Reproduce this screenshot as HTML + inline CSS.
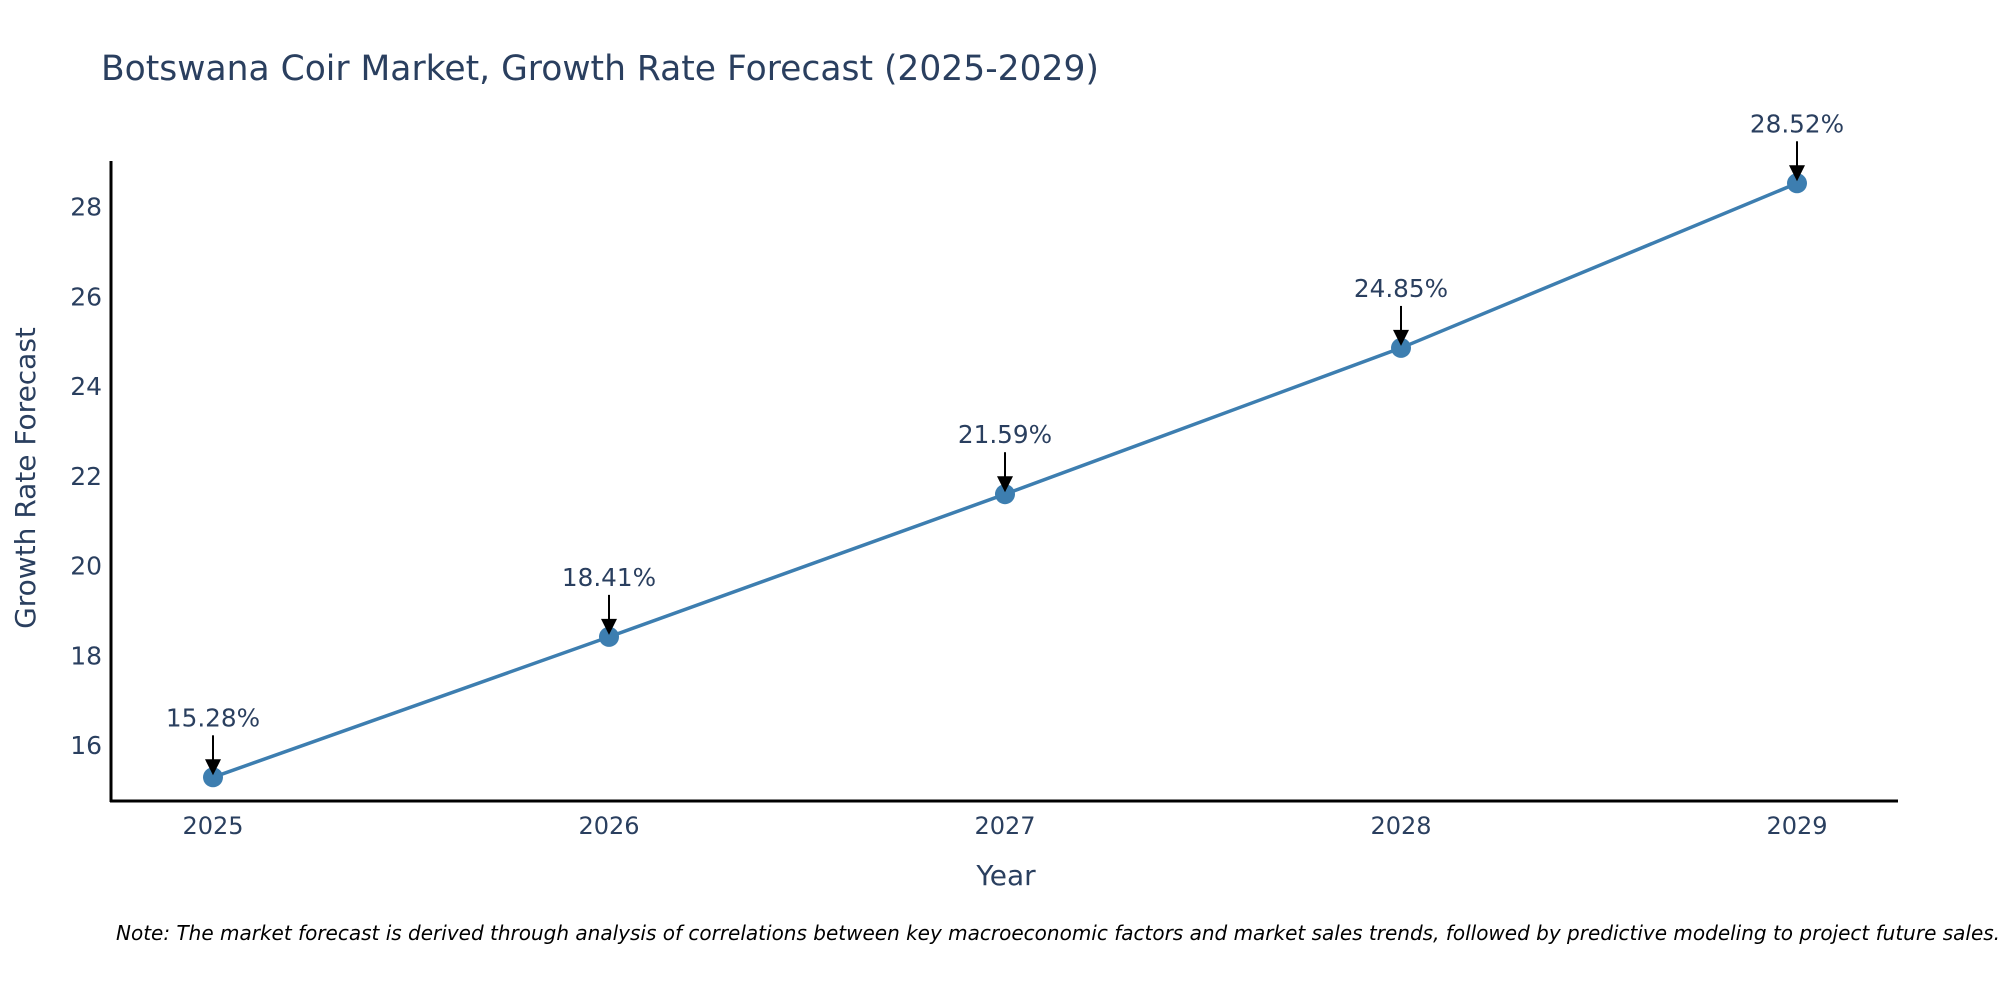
<!DOCTYPE html>
<html><head><meta charset="utf-8"><style>
html,body{margin:0;padding:0;background:#fff;overflow:hidden;}
svg{display:block;font-family:"DejaVu Sans","Liberation Sans",sans-serif;}
</style></head><body>
<svg id="chart" width="2000" height="1000" viewBox="0 0 2000 1000">
<text x="101" y="80" font-size="34.5" fill="#2a3f5f">Botswana Coir Market, Growth Rate Forecast (2025-2029)</text>
<g id="yticks"></g>
<g id="xticks"></g>
<line x1="111" y1="161" x2="111" y2="802" stroke="#000" stroke-width="3"/>
<line x1="110" y1="801" x2="1898" y2="801" stroke="#000" stroke-width="3"/>
<g id="series"></g>
<g id="annos"></g>
<text x="1006" y="885" font-size="28" fill="#2a3f5f" text-anchor="middle">Year</text>
<text transform="translate(35,478) rotate(-90)" font-size="28" fill="#2a3f5f" text-anchor="middle">Growth Rate Forecast</text>
<text x="116" y="940" font-size="20" font-style="italic" fill="#000">Note: The market forecast is derived through analysis of correlations between key macroeconomic factors and market sales trends, followed by predictive modeling to project future sales.</text>
</svg>
<script>
const years = ["2025","2026","2027","2028","2029"];
const growthValues = [15.28, 18.41, 21.59, 24.85, 28.52];
const yTickValues = [16, 18, 20, 22, 24, 26, 28];

const NS = "http://www.w3.org/2000/svg";
function xScale(i){ return 213 + i * 396; }
function yScale(v){ return 745 - (v - 16) * (745 - 206.6) / 12; }
function mk(tag, attrs, parent){
  const e = document.createElementNS(NS, tag);
  for (const k in attrs) e.setAttribute(k, attrs[k]);
  parent.appendChild(e);
  return e;
}
const yt = document.getElementById('yticks');
yTickValues.forEach(v => {
  const t = mk('text', {x: 102, y: yScale(v) + 9, 'font-size': 25, fill: '#2a3f5f', 'text-anchor': 'end'}, yt);
  
  
  t.textContent = v;
});
const xt = document.getElementById('xticks');
years.forEach((y, i) => {
  const t = mk('text', {x: xScale(i), y: 834, 'font-size': 24, fill: '#2a3f5f', 'text-anchor': 'middle'}, xt);
  
  
  t.textContent = y;
});
const s = document.getElementById('series');
const pts = growthValues.map((v, i) => xScale(i) + ',' + yScale(v)).join(' ');
const line = mk('polyline', {points: pts, fill: 'none', stroke: '#3d7eb0', 'stroke-width': 3.5}, s);


growthValues.forEach((v, i) => {
  const c = mk('circle', {cx: xScale(i), cy: yScale(v), r: 10, fill: '#3d7eb0'}, s);
  
  
});
const an = document.getElementById('annos');
growthValues.forEach((v, i) => {
  const x = xScale(i), y = yScale(v);
  const l = mk('line', {x1: x, y1: y - 42, x2: x, y2: y - 14, stroke: '#000', 'stroke-width': 2}, an);
  
  
  const h = mk('polygon', {points: (x-8)+','+(y-18)+' '+(x+8)+','+(y-18)+' '+x+','+(y-2), fill: '#000'}, an);
  
  
  const t = mk('text', {x: x, y: y - 51, 'font-size': 24.7, fill: '#2a3f5f', 'text-anchor': 'middle'}, an);
  
  
  t.textContent = v.toFixed(2) + '%';
});
</script>
</body></html>
